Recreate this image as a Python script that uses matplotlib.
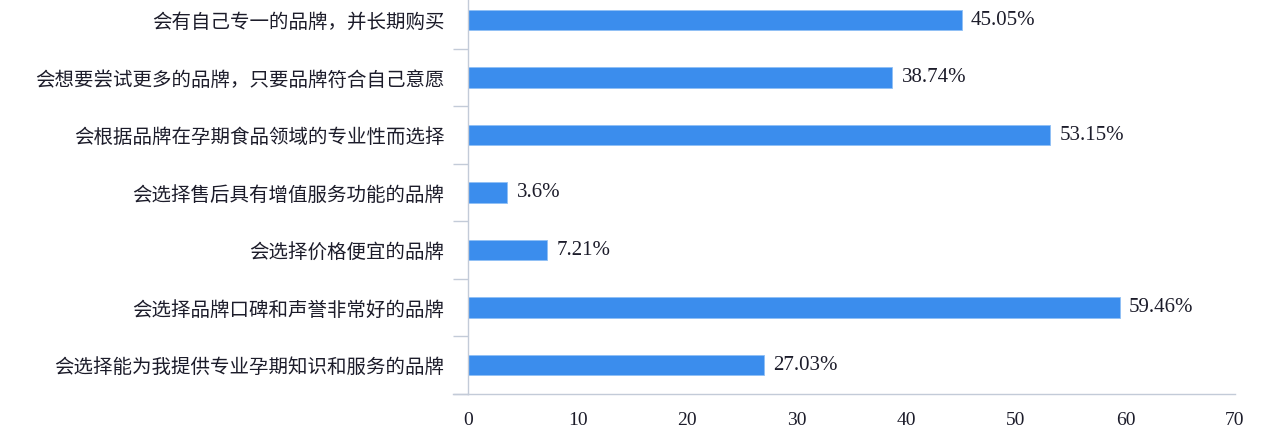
import matplotlib
matplotlib.use("Agg")
import matplotlib.pyplot as plt
from matplotlib.lines import Line2D
import numpy as np

categories = [
    "会有自己专一的品牌，并长期购买",
    "会想要尝试更多的品牌，只要品牌符合自己意愿",
    "会根据品牌在孕期食品领域的专业性而选择",
    "会选择售后具有增值服务功能的品牌",
    "会选择价格便宜的品牌",
    "会选择品牌口碑和声誉非常好的品牌",
    "会选择能为我提供专业孕期知识和服务的品牌",
]
values = [45.05, 38.74, 53.15, 3.6, 7.21, 59.46, 27.03]
value_labels = ["45.05%", "38.74%", "53.15%", "3.6%", "7.21%", "59.46%", "27.03%"]
xticks = [0, 10, 20, 30, 40, 50, 60, 70]

bar_color = "#3b8ded"
axis_color = "#c3cbd8"
text_color = "#1c1c2a"

fig = plt.figure(figsize=(12.8, 4.46), dpi=100)
ax = fig.add_axes([468 / 1280, (446 - 393.75) / 446, (1235 - 468) / 1280, 402.5 / 446])

y = np.arange(len(categories))
ax.barh(y, values, height=0.35, color=bar_color, edgecolor="#8fc0f5", linewidth=0.6)

for yi, v, lab in zip(y, values, value_labels):
    ax.text(v + 0.85, yi, lab, va="center", ha="left", fontsize=15,
            family=["Liberation Serif"], color=text_color)

ax.set_xlim(0, 70)
ax.set_ylim(len(categories) - 0.5, -0.5)
ax.set_xticks(xticks)
ax.set_xticklabels([str(t) for t in xticks], family=["Liberation Serif"], fontsize=14, color=text_color)
ax.tick_params(axis="x", length=0, pad=13)

ax.set_yticks(y)
ax.set_yticklabels(categories, family=["Noto Sans CJK SC", "DejaVu Sans"], fontsize=14, color=text_color)
ax.set_yticks(np.arange(-0.5, len(categories), 1.0), minor=True)
ax.tick_params(axis="y", which="major", length=0, pad=17)
ax.tick_params(axis="y", which="minor", length=11, color=axis_color, width=1)

for s in ["top", "right"]:
    ax.spines[s].set_visible(False)
ax.spines["left"].set_color(axis_color)
ax.spines["bottom"].set_color(axis_color)
ax.spines["left"].set_linewidth(1)
ax.spines["bottom"].set_linewidth(1)

ext = Line2D([-0.019, 0], [0, 0], transform=ax.transAxes, color=axis_color, lw=1, clip_on=False)
ax.add_line(ext)

fig.savefig("out.png", dpi=100)
